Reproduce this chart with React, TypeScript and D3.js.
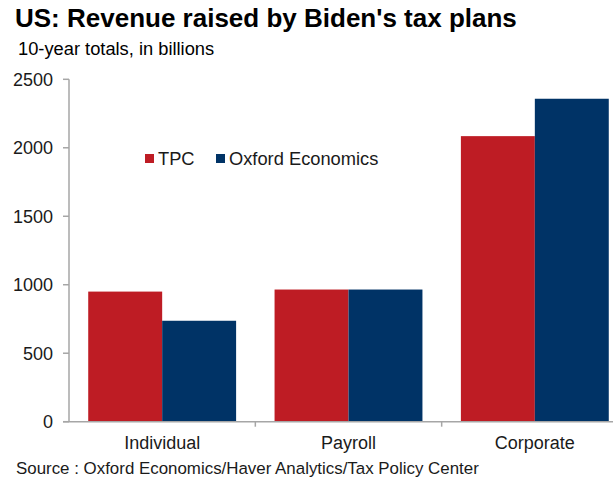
import React from "react";
import * as d3 from "d3";

const categories = ["Individual", "Payroll", "Corporate"];
const seriesNames = ["TPC", "Oxford Economics"];
const tpcValues = [950, 965, 2085];
const oxfordValues = [737, 965, 2358];
const yTicks = [0, 500, 1000, 1500, 2000, 2500];

const W = 613;
const H = 481;
const colors = ["#BE1C24", "#003366"];
const axisColor = "#a6a6a6";
const font = "Arial, 'Liberation Sans', sans-serif";

export default function App() {
  const x0 = d3.scaleBand<string>().domain(categories).range([69, 628]).padding(0);
  const x1 = d3
    .scaleBand<string>()
    .domain(seriesNames)
    .range([0, x0.bandwidth()])
    .paddingInner(0)
    .paddingOuter(0.26);
  const y = d3.scaleLinear().domain([0, 2500]).range([421.7, 79.3]);
  const series = [tpcValues, oxfordValues];

  return (
    <svg
      width={W}
      height={H}
      style={{ position: "absolute", left: 0, top: 0, background: "#fff" }}
      fontFamily={font}
    >
      <text x={15} y={27} fontSize={26} fontWeight="bold" fill="#000">
        US: Revenue raised by Biden's tax plans
      </text>
      <text x={18} y={55} fontSize={18.3} fill="#000">
        10-year totals, in billions
      </text>

      {series.map((vals, si) =>
        categories.map((c, ci) => (
          <rect
            key={`${si}-${ci}`}
            x={(x0(c) as number) + (x1(seriesNames[si]) as number)}
            y={y(vals[ci])}
            width={x1.bandwidth()}
            height={y(0) - y(vals[ci])}
            fill={colors[si]}
          />
        ))
      )}

      {/* y axis */}
      <line x1={69} x2={69} y1={y(2500)} y2={y(0)} stroke={axisColor} strokeWidth={1.5} />
      {yTicks.map((t) => (
        <g key={t}>
          <line x1={63} x2={69} y1={y(t)} y2={y(t)} stroke={axisColor} strokeWidth={1.5} />
          <text x={53} y={y(t)} dy="0.35em" textAnchor="end" fontSize={18} fill="#1a1a1a">
            {t}
          </text>
        </g>
      ))}

      {/* x axis */}
      <line x1={63} x2={W} y1={y(0)} y2={y(0)} stroke={axisColor} strokeWidth={1.5} />
      {categories.map((c) => (
        <g key={c}>
          <line
            x1={(x0(c) as number) + x0.bandwidth()}
            x2={(x0(c) as number) + x0.bandwidth()}
            y1={y(0)}
            y2={y(0) + 5}
            stroke={axisColor}
            strokeWidth={1.5}
          />
          <text
            x={(x0(c) as number) + x0.bandwidth() / 2}
            y={449}
            textAnchor="middle"
            fontSize={18}
            fill="#1a1a1a"
          >
            {c}
          </text>
        </g>
      ))}

      {/* legend */}
      {seriesNames.map((s, i) => {
        const lx = i === 0 ? 145 : 216;
        return (
          <g key={s}>
            <rect x={lx} y={154} width={9} height={9} fill={colors[i]} />
            <text x={lx + 13} y={165} fontSize={18.3} fill="#1a1a1a">
              {s}
            </text>
          </g>
        );
      })}

      <text x={16} y={474} fontSize={16.9} fill="#1a1a1a">
        Source : Oxford Economics/Haver Analytics/Tax Policy Center
      </text>
    </svg>
  );
}
